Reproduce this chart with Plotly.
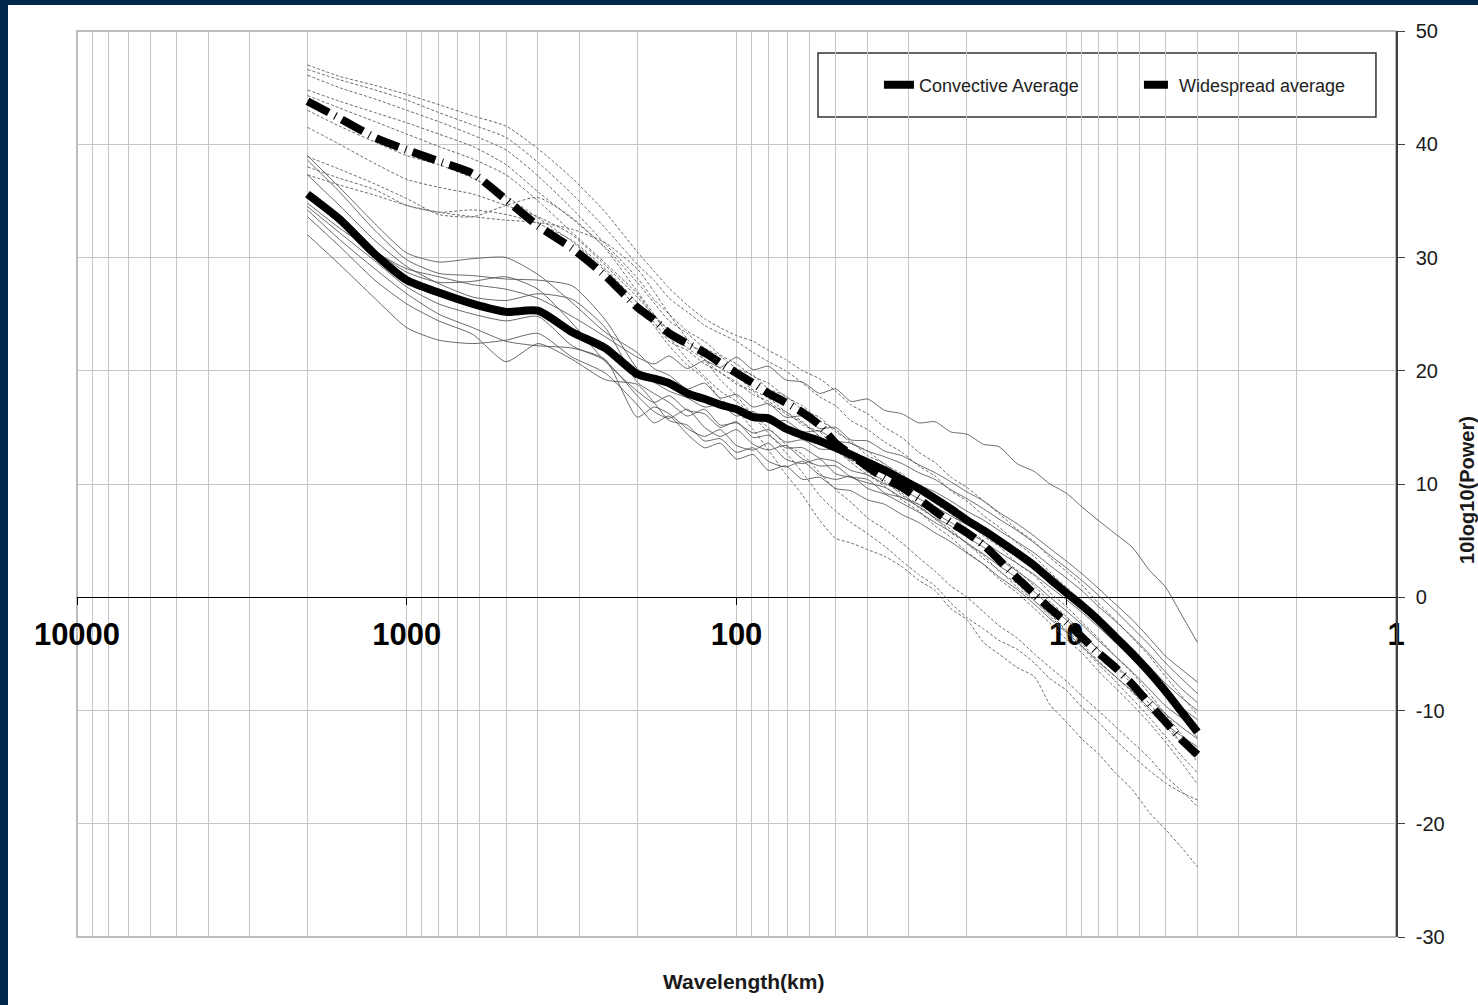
import plotly.graph_objects as go

# ---------------- data ----------------
wavelength_km = [2000, 1600, 1250, 1000, 800, 630, 500, 400, 315, 250, 200,
                 178, 160, 141, 125, 112, 100, 89, 80, 71, 63, 56, 50, 45, 40,
                 35.5, 31.5, 28, 25, 22.4, 20, 17.8, 16, 14.1, 12.5, 11.2, 10,
                 8.9, 8, 7.1, 6.3, 5.6, 5, 4.5, 4]

convective_average = [35.6, 33.4, 30.3, 28.0, 26.9, 25.9, 25.2, 25.3, 23.4, 22.0, 19.7,
                      19.3, 18.9, 18.0, 17.5, 17.0, 16.6, 15.9, 15.8, 14.9, 14.3, 13.8, 13.2, 12.6, 11.9,
                      11.2, 10.4, 9.6, 8.7, 7.8, 6.8, 5.9, 5.0, 3.9, 2.8, 1.6, 0.4,
                      -0.8, -2.0, -3.5, -5.0, -6.6, -8.3, -10.0, -11.9]

widespread_average = [43.8, 42.3, 40.6, 39.5, 38.5, 37.4, 35.1, 32.8, 30.8, 28.4, 25.6,
                      24.5, 23.3, 22.4, 21.6, 20.7, 19.8, 18.9, 18.0, 17.2, 16.3, 15.2, 13.6, 12.6, 11.5,
                      10.5, 9.7, 8.7, 7.6, 6.6, 5.7, 4.6, 3.3, 1.7, 0.3, -1.0, -2.2,
                      -3.6, -4.9, -6.2, -7.7, -9.4, -11.0, -12.5, -13.9]

# individual convective cases (thin solid)
conv_1 = [34.8, 32.6, 30.5, 29.0, 28.3, 27.6, 27.2, 26.4, 24.8, 23.0, 21.2,
          20.6, 21.3, 20.2, 20.9, 20.3, 21.2, 20.1, 20.4, 19.2, 19.0, 18.0, 18.4, 17.3, 17.5,
          16.5, 16.2, 15.4, 15.5, 14.6, 14.4, 13.5, 13.3, 11.8, 11.1, 10.0, 9.2,
          7.9, 6.8, 5.6, 4.4, 2.4, 0.9, -1.4, -4.0]
conv_2 = [39.0, 36.2, 33.0, 30.4, 29.6, 29.9, 30.0, 28.5, 26.0, 23.4, 21.6,
          20.2, 19.6, 18.4, 18.9, 17.6, 17.9, 16.8, 17.1, 15.9, 16.0, 14.9, 15.0, 13.9, 13.8,
          12.9, 12.5, 11.7, 11.0, 10.2, 9.3, 8.5, 7.5, 6.5, 5.4, 4.3, 3.2,
          2.0, 0.8, -0.6, -2.0, -3.6, -5.2, -6.3, -7.5]
conv_3 = [38.6, 35.8, 32.4, 29.8, 28.6, 28.4, 28.1, 28.0, 27.5, 24.5, 20.2,
          19.0, 18.2, 17.6, 16.8, 17.0, 16.0, 16.4, 15.4, 15.6, 14.6, 14.7, 13.8, 13.6, 12.9,
          12.4, 11.8, 11.0, 10.4, 9.5, 8.7, 7.8, 6.9, 5.9, 4.8, 3.7, 2.6,
          1.4, 0.2, -1.2, -2.7, -4.2, -5.8, -7.1, -8.5]
conv_4 = [37.3, 34.6, 31.5, 29.2, 27.7, 26.5, 26.2, 26.8, 26.3, 23.8, 19.0,
          18.0, 17.2, 16.0, 16.6, 15.2, 15.4, 14.5, 14.8, 13.7, 13.9, 13.1, 13.0, 12.1, 12.0,
          11.0, 10.7, 9.9, 9.3, 8.5, 7.6, 6.8, 5.9, 4.9, 3.9, 2.8, 1.7,
          0.5, -0.8, -2.1, -3.5, -5.0, -6.6, -8.0, -9.3]
conv_5 = [35.5, 33.0, 30.6, 28.7, 27.8, 27.9, 28.3, 27.2, 24.2, 20.8, 18.2,
          17.2, 17.8, 16.5, 16.2, 15.0, 15.5, 14.1, 14.3, 13.2, 13.2, 12.3, 12.0, 11.2, 10.8,
          10.0, 9.5, 8.7, 8.0, 7.2, 6.4, 5.6, 4.7, 3.7, 2.7, 1.6, 0.5,
          -0.6, -1.8, -3.1, -4.6, -6.1, -7.6, -8.8, -10.0]
conv_6 = [34.5, 32.2, 29.7, 27.4, 25.9, 25.0, 24.4, 24.8, 22.2, 20.9, 17.8,
          16.4, 15.8, 16.6, 15.0, 14.2, 14.8, 13.5, 13.0, 13.4, 12.2, 11.6, 11.6, 10.6, 10.1,
          9.7, 8.8, 8.2, 7.4, 6.6, 5.8, 4.9, 4.0, 3.0, 2.0, 0.9, -0.2,
          -1.4, -2.6, -4.0, -5.5, -7.0, -8.5, -9.7, -10.8]
conv_7 = [34.2, 31.6, 29.0, 26.8, 25.0, 23.8, 22.6, 22.2, 22.0, 21.0, 15.9,
          16.8, 16.2, 14.9, 14.2, 14.8, 13.4, 13.0, 13.6, 12.2, 11.8, 12.2, 10.9, 10.6, 10.4,
          9.2, 8.8, 8.0, 7.0, 6.3, 5.3, 4.4, 3.4, 2.3, 1.2, 0.0, -1.2,
          -2.5, -3.8, -5.2, -6.6, -8.1, -9.6, -10.6, -11.5]
conv_8 = [33.6, 31.0, 28.0, 25.9, 24.4, 23.2, 20.8, 22.4, 21.0, 19.2, 18.8,
          17.2, 15.6, 15.2, 13.8, 14.0, 12.8, 13.2, 12.0, 11.5, 12.0, 10.8, 10.4, 10.7, 9.6,
          9.1, 8.3, 7.5, 6.6, 5.8, 4.8, 3.8, 2.8, 1.7, 0.5, -0.8, -2.0,
          -3.3, -4.6, -6.0, -7.4, -8.9, -10.3, -11.4, -12.5]
conv_9 = [32.0, 29.4, 26.4, 23.8, 22.7, 22.4, 22.7, 23.3, 21.2, 19.8, 17.0,
          15.4, 16.0, 14.4, 13.2, 13.6, 12.2, 12.6, 11.2, 11.6, 10.4, 10.6, 9.6, 9.4, 8.6,
          8.2, 7.3, 6.6, 5.7, 4.9, 3.9, 2.9, 1.8, 0.7, -0.6, -1.9, -3.1,
          -4.4, -5.7, -7.0, -8.3, -9.8, -11.2, -12.2, -13.2]

# individual widespread cases (thin dashed)
wide_1 = [47.0, 46.0, 45.2, 44.4, 43.5, 42.5, 41.6, 39.6, 37.0, 34.0, 30.5,
          28.8, 27.3, 25.8, 24.6, 23.8, 23.1, 22.6, 21.8, 21.0, 20.0, 19.3, 18.2, 17.0, 16.2,
          15.0, 14.1, 12.8, 11.9, 10.6, 9.7, 8.5, 7.4, 6.0, 4.9, 3.5, 2.3,
          1.0, -0.5, -2.0, -3.6, -5.2, -7.0, -8.6, -10.4]
wide_2 = [46.6, 45.7, 44.8, 43.9, 42.8, 41.7, 40.6, 38.4, 35.6, 32.6, 29.4,
          28.0, 26.4, 25.2, 24.0, 23.3, 22.6, 21.6, 20.8, 20.0, 18.9, 17.7, 16.9, 15.6, 14.8,
          13.7, 12.8, 11.6, 10.7, 9.4, 8.5, 7.2, 6.2, 4.8, 3.6, 2.2, 0.9,
          -0.5, -1.9, -3.5, -5.0, -6.8, -8.6, -10.5, -12.4]
wide_3 = [46.1, 45.0, 44.0, 43.0, 42.0, 40.8, 39.5, 37.2, 34.3, 31.2, 28.2,
          26.3, 25.0, 23.5, 22.6, 21.4, 20.6, 19.5, 18.9, 17.7, 16.9, 15.6, 14.8, 13.6, 12.9,
          11.7, 10.9, 9.7, 8.9, 7.6, 6.8, 5.4, 4.5, 3.0, 1.9, 0.4, -0.8,
          -2.3, -3.6, -5.2, -6.7, -8.5, -10.3, -12.0, -13.6]
wide_4 = [44.8, 43.8, 42.8, 41.9, 40.9, 39.8, 38.2, 35.8, 33.4, 30.9, 27.8,
          26.0, 24.4, 23.3, 22.0, 21.3, 20.2, 19.6, 18.4, 17.8, 16.5, 15.9, 14.6, 13.8, 12.5,
          11.8, 10.5, 9.6, 8.3, 7.4, 6.0, 5.0, 3.6, 2.4, 1.0, -0.4, -1.7,
          -3.2, -4.6, -6.1, -7.7, -9.4, -11.0, -12.8, -14.5]
wide_5 = [44.3, 43.2, 42.0, 40.9, 39.8, 38.7, 37.3, 35.0, 32.2, 29.5, 26.8,
          24.8, 23.5, 22.0, 21.0, 19.8, 19.0, 17.9, 17.3, 16.2, 15.4, 14.2, 13.3, 12.1, 11.3,
          10.1, 9.2, 7.9, 7.0, 5.7, 4.8, 3.4, 2.4, 0.9, -0.3, -1.7, -3.0,
          -4.5, -5.9, -7.4, -9.0, -10.6, -12.3, -13.9, -15.5]
wide_6 = [41.5, 40.0, 38.3, 36.9, 36.2, 35.6, 34.6, 33.6, 32.0, 29.3, 26.5,
          24.9, 23.6, 22.5, 21.5, 20.2, 19.5, 18.3, 17.6, 16.4, 15.5, 14.2, 13.0, 11.9, 10.8,
          9.8, 8.6, 7.6, 6.3, 5.3, 4.0, 2.9, 1.6, 0.4, -1.0, -2.3, -3.7,
          -5.0, -6.5, -8.0, -9.5, -11.1, -12.8, -14.5, -16.5]
wide_7 = [38.9, 37.8, 36.5, 35.2, 33.8, 33.6, 34.6, 35.3, 33.5, 30.8, 27.0,
          25.0, 23.0, 21.0, 19.5, 18.2, 17.3, 16.0, 15.0, 13.5, 12.6, 11.0, 9.5, 8.4, 7.0,
          6.0, 4.8, 3.5, 2.3, 1.0, 0.0, -1.3, -2.5, -3.6, -5.0, -6.2, -7.4,
          -8.8, -10.0, -11.4, -12.8, -14.2, -15.8, -17.0, -18.5]
wide_8 = [38.0, 37.0, 36.0, 34.6, 34.0, 34.2, 33.8, 33.0, 31.5, 29.0, 26.0,
          24.0, 22.2, 20.5, 19.3, 17.5, 16.5, 14.8, 13.0, 10.9, 9.0, 6.8, 5.2, 4.8, 4.2,
          3.6, 2.7, 1.5, 0.6, -1.0, -2.0, -4.0, -5.0, -6.2, -7.0, -9.5, -11.0,
          -12.6, -13.8, -15.5, -17.0, -19.0, -20.5, -22.0, -23.8]
wide_9 = [37.3, 36.4, 35.5, 34.6, 34.0, 33.6, 33.3, 33.1, 32.5, 31.3, 29.0,
          27.0, 25.0, 22.8, 21.0, 19.2, 17.8, 16.0, 14.5, 12.8, 11.0, 9.0, 7.6, 6.6, 5.6,
          4.5, 3.2, 2.0, 1.0, -0.5, -1.8, -2.8, -3.8, -4.6, -5.8, -7.2, -8.2,
          -9.8, -11.0, -12.6, -14.0, -15.3, -16.4, -17.2, -17.9]
wide_10 = [43.0, 41.6, 40.2, 39.0, 38.2, 37.0, 35.4, 33.5, 31.4, 28.8, 25.5,
           24.3, 22.6, 21.8, 20.6, 19.9, 18.8, 18.2, 17.0, 16.4, 15.2, 14.6, 13.2, 12.4, 11.0,
           10.3, 9.0, 8.2, 6.9, 6.0, 4.7, 3.7, 2.3, 1.2, -0.3, -1.5, -2.9,
           -4.2, -5.6, -7.0, -8.4, -10.0, -11.4, -12.8, -14.0]

convective_cases = [conv_1, conv_2, conv_3, conv_4, conv_5, conv_6, conv_7, conv_8, conv_9]
widespread_cases = [wide_1, wide_2, wide_3, wide_4, wide_5, wide_6, wide_7, wide_8, wide_9, wide_10]

x_tick_vals = [10000, 1000, 100, 10, 1]
x_tick_text = ["10000", "1000", "100", "10", "1"]
x_minor_vals = [m * d for d in (1000, 100, 10, 1) for m in range(2, 10)]
y_tick_vals = [-30, -20, -10, 0, 10, 20, 30, 40, 50]
y_tick_text = ["-30", "-20", "-10", "0", "10", "20", "30", "40", "50"]

# ---------------- figure ----------------
FONT = "Liberation Sans, Arial, sans-serif"
GRID = "#c6c6c6"

fig = go.Figure()

for ys in widespread_cases:
    fig.add_trace(go.Scatter(x=wavelength_km, y=ys, mode="lines", showlegend=False,
                             hoverinfo="skip",
                             line=dict(color="rgba(80,80,80,0.85)", width=1, dash="3px,2px",
                                       shape="spline", smoothing=0.6)))
for ys in convective_cases:
    fig.add_trace(go.Scatter(x=wavelength_km, y=ys, mode="lines", showlegend=False,
                             hoverinfo="skip",
                             line=dict(color="rgba(80,80,80,0.85)", width=1,
                                       shape="spline", smoothing=0.6)))

fig.add_trace(go.Scatter(x=wavelength_km, y=widespread_average, mode="lines",
                         name="Widespread average", legendrank=2,
                         line=dict(color="black", width=8, dash="24px,7px,1px,7px",
                                   shape="spline", smoothing=0.6)))
fig.add_trace(go.Scatter(x=wavelength_km, y=convective_average, mode="lines",
                         name="Convective Average", legendrank=1,
                         line=dict(color="black", width=8, shape="spline", smoothing=0.6)))

fig.update_layout(
    width=1478, height=1005,
    margin=dict(l=77, r=82, t=31, b=68),
    paper_bgcolor="white", plot_bgcolor="white",
    font=dict(family=FONT, color="#1a1a1a"),
    showlegend=True,
    legend=dict(orientation="h", x=0.608, y=0.9404, xanchor="left", yanchor="middle",
                bgcolor="rgba(0,0,0,0)", borderwidth=0, entrywidth=215,
                font=dict(family=FONT, size=18, color="#222222"),
                traceorder="normal"),
)

fig.update_xaxes(
    type="log", range=[4, 0],
    tickvals=x_tick_vals, ticktext=x_tick_text,
    tickfont=dict(family=FONT, size=31, color="black", weight="bold"),
    showgrid=True, gridcolor=GRID, gridwidth=1.3,
    minor=dict(tickvals=x_minor_vals, showgrid=True, gridcolor=GRID, gridwidth=1.3, ticks=""),
    showline=True, linecolor="black", linewidth=1.3,
    ticks="outside", ticklen=7, tickcolor="black", tickwidth=1.3,
    anchor="free", position=0.375, layer="below traces",
    ticklabelstandoff=2,
    zeroline=False,
)

fig.update_yaxes(
    range=[-30, 50], tickvals=y_tick_vals, ticktext=y_tick_text, side="right",
    tickfont=dict(family=FONT, size=20, color="#1a1a1a"),
    showgrid=True, gridcolor=GRID, gridwidth=1.3,
    showline=True, linecolor="#404040", linewidth=1.5,
    ticks="outside", ticklen=7, tickcolor="#404040", tickwidth=1.3,
    ticklabelstandoff=7,
    zeroline=False,
)

# plot frame, legend box, page border
fig.add_shape(type="rect", xref="paper", yref="paper", x0=0, x1=1, y0=0, y1=1,
              line=dict(color="#a8a8a8", width=1.5), fillcolor="rgba(0,0,0,0)", layer="between")
fig.add_shape(type="rect", xref="paper", yref="paper", x0=0.5618, x1=0.9848, y0=0.905, y1=0.9757,
              line=dict(color="#333333", width=1.5), fillcolor="white", layer="between")
fig.add_shape(type="rect", xref="paper", yref="paper", x0=-0.0584, x1=-0.0523, y0=-0.0751, y1=1.0343,
              line=dict(width=0), fillcolor="#02294b", layer="above")
fig.add_shape(type="rect", xref="paper", yref="paper", x0=-0.0584, x1=1.0622, y0=1.0287, y1=1.0343,
              line=dict(width=0), fillcolor="#02294b", layer="above")

fig.add_annotation(text="Wavelength(km)", xref="paper", yref="paper", x=0.505, y=-0.0486,
                   xanchor="center", yanchor="middle", showarrow=False,
                   font=dict(family=FONT, size=21, color="#1a1a1a", weight="bold"))
fig.add_annotation(text="10log10(Power)", xref="paper", yref="paper", x=1.0538, y=0.4934,
                   xanchor="center", yanchor="middle", showarrow=False, textangle=-90,
                   font=dict(family=FONT, size=20, color="#1a1a1a", weight="bold"))

fig.write_html("out.html", config={"displayModeBar": False},
               post_script="document.body.style.margin='0';document.body.style.overflow='hidden';")
